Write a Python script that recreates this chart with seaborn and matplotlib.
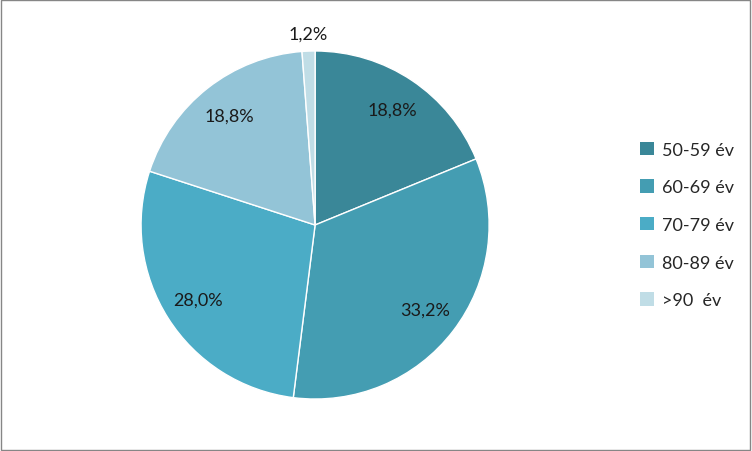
import matplotlib
matplotlib.use("Agg")
import matplotlib.pyplot as plt
from matplotlib.patches import Patch, Rectangle
import numpy as np
import seaborn as sns

# Age group shares (%)
categories = ["50-59 év", "60-69 év", "70-79 év", "80-89 év", ">90  év"]
shares = [18.8, 33.2, 28.0, 18.8, 1.2]
colors = ["#3A8798", "#449DB2", "#4BACC6", "#93C4D7", "#C0DDE6"]

sns.set_theme(style="white")
plt.rcParams["font.family"] = ["Lato", "DejaVu Sans"]

fig = plt.figure(figsize=(7.52, 4.52), dpi=100)
ax = fig.add_axes([0.1875, 0.115, 0.463, 0.77])

palette = sns.color_palette(colors)
wedges, texts, autotexts = ax.pie(
    shares,
    colors=palette,
    startangle=90,
    counterclock=False,
    autopct=lambda p: f"{p:.1f}%".replace(".", ","),
    pctdistance=0.8,
    wedgeprops=dict(edgecolor="white", linewidth=1),
    textprops=dict(fontsize=13, color="#1a1a1a"),
)
ax.set_aspect("equal")
ax.set_xlim(-1, 1)
ax.set_ylim(-1, 1)

# small slice label goes outside
w = wedges[-1]
ang = np.deg2rad((w.theta1 + w.theta2) / 2)
autotexts[-1].set_position((1.1 * np.cos(ang), 1.1 * np.sin(ang)))

handles = [Patch(facecolor=c, edgecolor="none") for c in colors]
fig.legend(handles, categories, loc="center left", bbox_to_anchor=(0.83, 0.5),
           frameon=False, fontsize=13, handlelength=0.75, handleheight=0.75,
           handletextpad=0.45, labelspacing=1.2)

fig.patches.append(Rectangle((0.001, 0.002), 0.997, 0.996, transform=fig.transFigure,
                             fill=False, edgecolor="#868686", linewidth=1))

fig.savefig("out.png", dpi=100, facecolor="white")
